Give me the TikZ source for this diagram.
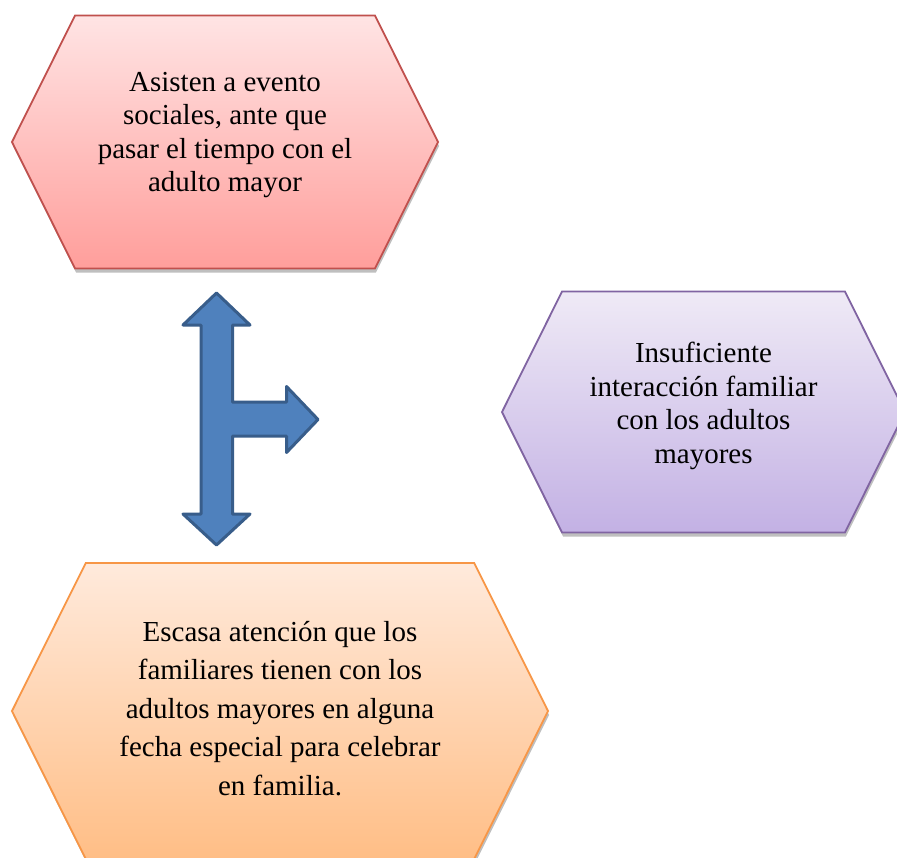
\documentclass[tikz,border=0pt]{standalone}
\usepackage{fontspec}
\setmainfont{Liberation Serif}
\usetikzlibrary{shapes.symbols,shadows}
\definecolor{redline}{HTML}{C0504D}\definecolor{redtop}{HTML}{FFE4E4}\definecolor{redbot}{HTML}{FF9E9B}
\definecolor{vioDline}{HTML}{8064A2}\definecolor{viotop}{HTML}{EFEAF6}\definecolor{viobot}{HTML}{C3B1E4}
\definecolor{oraline}{HTML}{F79646}\definecolor{oratop}{HTML}{FFEADC}\definecolor{orabot}{HTML}{FFBE86}
\definecolor{arrfill}{HTML}{4F81BD}\definecolor{arrline}{HTML}{385D8A}
\begin{document}
\begin{tikzpicture}
[x=1pt,y=-1pt,
h/.style={signal,signal to=west and east,signal pointer angle=127,line width=1.8pt,inner sep=0pt,align=center,
drop shadow={shadow xshift=1pt,shadow yshift=-4pt,opacity=.25,fill=black}},
t/.style={font=\fontsize{29}{33.5}\selectfont},
a/.style={fill=arrfill,draw=arrline,line width=3pt,line join=round}]
\useasboundingbox[fill=white](0,0) rectangle (897,857);
\node(social) at (225,142)[h,t,text depth=20pt,draw=redline,top color=redtop,bottom color=redbot,minimum width=426pt,minimum height=253pt]
{Asisten a evento\\sociales, ante que\\pasar el tiempo con el\\adulto mayor};
\node(interaccion) at (703.5,412)[h,t,text depth=18pt,draw=vioDline,top color=viotop,bottom color=viobot,minimum width=403pt,minimum height=241pt]
{Insuficiente\\interacción familiar\\con los adultos\\mayores};
\node(atencion) at (280,711)[h,font=\fontsize{29}{38.5}\selectfont,text depth=6pt,draw=oraline,top color=oratop,bottom color=orabot,minimum width=536pt,minimum height=296pt]
{Escasa atención que los\\familiares tienen con los\\adultos mayores en alguna\\fecha especial para celebrar\\en familia.};
\draw[a](216.5,293)--(250,325)--(232.5,325)--(232.5,402)--(286.5,402)--(286.5,386.5)--(318,419.5)--(286.5,452.5)--(286.5,436)--(232.5,436)
--(232.5,514)--(250,514)--(216.5,545)--(183,514)--(201,514)--(201,325)--(183,325)--cycle;
\end{tikzpicture}
\end{document}
